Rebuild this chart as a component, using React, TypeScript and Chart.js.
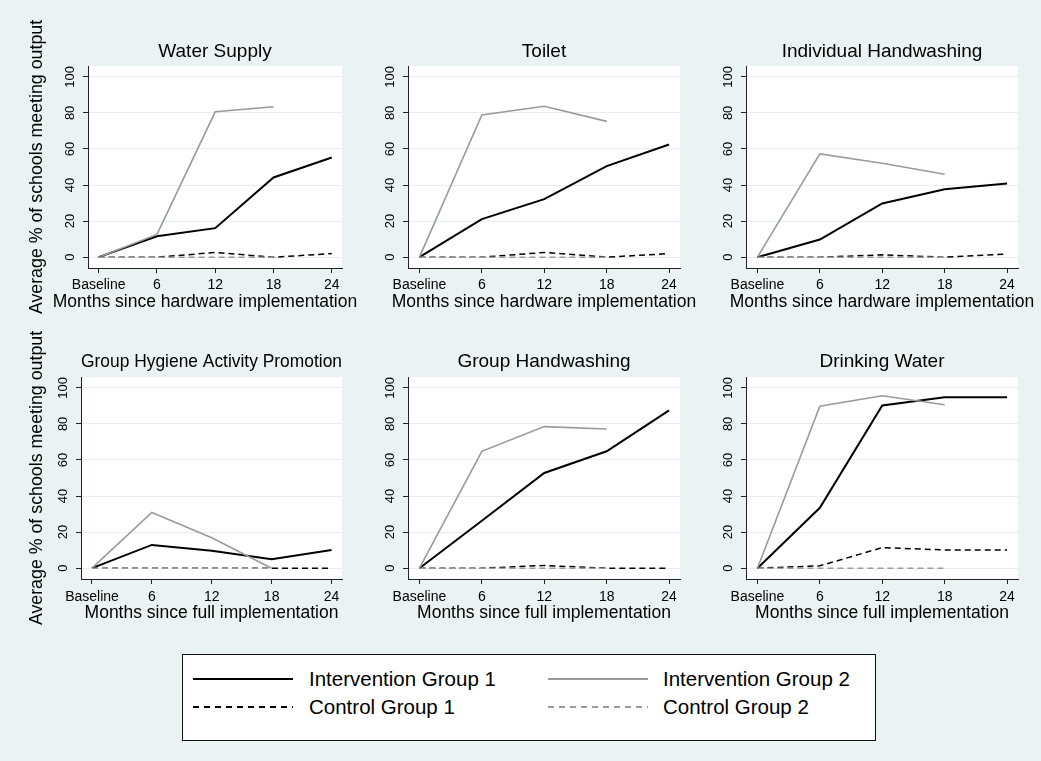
import React, { useEffect, useRef } from 'react';
import { Chart, registerables } from 'chart.js';

Chart.register(...registerables);

// ---------- data ----------
const months = [0, 6, 12, 18, 24];
const monthLabels = ['Baseline', '6', '12', '18', '24'];
const yTickValues = [0, 20, 40, 60, 80, 100];
const seriesNames = ['Intervention Group 1', 'Intervention Group 2', 'Control Group 1', 'Control Group 2'];
const panelTitles = ['Water Supply', 'Toilet', 'Individual Handwashing', 'Group Hygiene Activity Promotion', 'Group Handwashing', 'Drinking Water'];
const xAxisTitles = [
  'Months since hardware implementation',
  'Months since hardware implementation',
  'Months since hardware implementation',
  'Months since full implementation',
  'Months since full implementation',
  'Months since full implementation',
];
const yAxisTitle = 'Average % of schools meeting output';

// Intervention Group 1 (to 24 months), Intervention Group 2 (to 18), Control Group 1 (to 24), Control Group 2 (to 18)
const waterSupplyIG1 = [0, 11.6, 16.1, 44.2, 55.3];
const waterSupplyIG2 = [0, 12.6, 80.6, 83.4];
const waterSupplyCG1 = [0, 0, 2.6, 0, 2.0];
const waterSupplyCG2 = [0, 0, 0, 0];

const toiletIG1 = [0, 21.1, 32.2, 50.5, 62.5];
const toiletIG2 = [0, 78.9, 83.7, 75.3];
const toiletCG1 = [0, 0, 2.6, 0, 2.0];
const toiletCG2 = [0, 0, 0, 0];

const indivHandIG1 = [0, 9.8, 29.8, 37.7, 40.9];
const indivHandIG2 = [0, 57.3, 52.1, 46.0];
const indivHandCG1 = [0, 0, 1.3, 0, 1.8];
const indivHandCG2 = [0, 0, 0, 0];

const hygieneIG1 = [0, 12.9, 9.6, 5.0, 10.1];
const hygieneIG2 = [0, 30.9, 16.9, 0];
const hygieneCG1 = [0, 0, 0, 0, 0];
const hygieneCG2 = [0, 0, 0, 0];

const groupHandIG1 = [0, 26.3, 52.8, 64.8, 87.5];
const groupHandIG2 = [0, 64.8, 78.5, 77.2];
const groupHandCG1 = [0, 0, 1.5, 0, 0];
const groupHandCG2 = [0, 0, 0, 0];

const drinkingIG1 = [0, 33.5, 90.2, 94.8, 94.8];
const drinkingIG2 = [0, 89.8, 95.6, 90.6];
const drinkingCG1 = [0, 1.3, 11.4, 10.1, 10.1];
const drinkingCG2 = [0, 0, 0, 0];

const panelSeries = [
  [waterSupplyIG1, waterSupplyIG2, waterSupplyCG1, waterSupplyCG2],
  [toiletIG1, toiletIG2, toiletCG1, toiletCG2],
  [indivHandIG1, indivHandIG2, indivHandCG1, indivHandCG2],
  [hygieneIG1, hygieneIG2, hygieneCG1, hygieneCG2],
  [groupHandIG1, groupHandIG2, groupHandCG1, groupHandCG2],
  [drinkingIG1, drinkingIG2, drinkingCG1, drinkingCG2],
];

// ---------- styles / layout ----------
const FONT = "'Liberation Sans', Arial, Helvetica, sans-serif";
const BG = '#EAF2F3';
const GRID = '#E6EEF0';
const AXIS = '#222';
const GRAY = '#9a9a9a';
const TITLE_SIZE = 19;
const AXIS_TITLE_SIZE = 17.5;
const Y_TITLE_SIZE = 17.8;
const TICK_SIZE = 14;
const YTICK_SIZE = 13;
const LEGEND_SIZE = 20.5;
const LH = 1.2;
const TL = 5;
const YTICK_OFFSET = 18;

const seriesStyles = [
  { color: '#000', width: 2, dash: [] as number[], order: 4 },
  { color: GRAY, width: 1.6, dash: [] as number[], order: 3 },
  { color: '#000', width: 1.5, dash: [6, 4], order: 2 },
  { color: GRAY, width: 1.5, dash: [6, 4], order: 1 },
];

type Layout = {
  l: number; r: number; t: number; b: number;
  cl: number; ct: number; cw: number; ch: number;
  titleCY: number; tickCY: number; xTitleCY: number; xTitleCX?: number; yTitleCX?: number;
};

const layouts: Layout[] = [
  { l: 88, r: 342, t: 66, b: 268, cl: 0, ct: 4, cw: 370, ch: 326, titleCY: 52, tickCY: 285, xTitleCY: 302, xTitleCX: 205, yTitleCX: 37.5 },
  { l: 408, r: 680, t: 66, b: 268, cl: 345, ct: 4, cw: 360, ch: 326, titleCY: 52, tickCY: 285, xTitleCY: 302 },
  { l: 746, r: 1018, t: 66, b: 268, cl: 690, ct: 4, cw: 351, ch: 326, titleCY: 52, tickCY: 285, xTitleCY: 302 },
  { l: 81, r: 342, t: 377, b: 579, cl: 0, ct: 325, cw: 370, ch: 315, titleCY: 362, tickCY: 597, xTitleCY: 613, yTitleCX: 37.5 },
  { l: 408, r: 680, t: 377, b: 579, cl: 345, ct: 325, cw: 360, ch: 315, titleCY: 362, tickCY: 597, xTitleCY: 613 },
  { l: 746, r: 1018, t: 377, b: 579, cl: 690, ct: 325, cw: 351, ch: 315, titleCY: 362, tickCY: 597, xTitleCY: 613 },
];

const plotBg = {
  id: 'plotBg',
  beforeDraw(chart: any) {
    const { ctx, chartArea: a } = chart;
    ctx.save();
    ctx.fillStyle = '#ffffff';
    ctx.fillRect(a.left, a.top, a.right - a.left, a.bottom - a.top);
    ctx.restore();
  },
};

// x-axis title drawn without Chart.js's maxWidth squeeze (the title is wider than the plot)
const xTitlePlugin = {
  id: 'xTitleFree',
  afterDraw(chart: any, _args: any, opts: any) {
    const { ctx } = chart;
    const sx = chart.scales.x;
    const cx = opts.cx !== undefined ? opts.cx - opts.cl : (sx.left + sx.right) / 2;
    ctx.save();
    ctx.fillStyle = '#000';
    ctx.font = `${AXIS_TITLE_SIZE}px ${FONT}`;
    ctx.textAlign = 'center';
    ctx.textBaseline = 'middle';
    ctx.fillText(opts.text, cx, opts.cy);
    ctx.restore();
  },
};

function measure(text: string, size: number) {
  const c = document.createElement('canvas').getContext('2d')!;
  c.font = `${size}px ${FONT}`;
  return c.measureText(text).width;
}

function Panel({ idx }: { idx: number }) {
  const ref = useRef<HTMLCanvasElement>(null);
  const L = layouts[idx];
  useEffect(() => {
    const titleLH = TITLE_SIZE * LH;
    const axLH = AXIS_TITLE_SIZE * LH;
    const yLH = Y_TITLE_SIZE * LH;
    const tickLH = TICK_SIZE * LH;
    const padTop = L.titleCY - titleLH / 2 - L.ct;
    const titlePadBottom = L.t - L.titleCY - titleLH / 2;
    const xh = L.xTitleCY + axLH / 2 - L.b;
    const padBottom = L.ct + L.ch - (L.b + xh);
    const padRight = L.cl + L.cw - L.r;
    const yw = L.l - L.cl;
    const xTickPad = L.tickCY - L.b - TL - tickLH / 2;
    const widest = measure('100', YTICK_SIZE);
    const yTickPad = YTICK_OFFSET - TL - widest / 2;
    const hasYTitle = L.yTitleCX !== undefined;
    const yTitlePadTop = hasYTitle ? (L.yTitleCX as number) - L.cl - yLH / 2 : 0;

    const series = panelSeries[idx];
    const datasets = series.map((vals, si) => ({
      label: seriesNames[si],
      data: vals.map((v, i) => ({ x: months[i], y: v })),
      borderColor: seriesStyles[si].color,
      borderWidth: seriesStyles[si].width,
      borderDash: seriesStyles[si].dash,
      order: seriesStyles[si].order,
      pointRadius: 0,
      pointHoverRadius: 0,
      fill: false,
      tension: 0,
    }));

    const chart = new Chart(ref.current as HTMLCanvasElement, {
      type: 'line',
      data: { datasets },
      plugins: [plotBg, xTitlePlugin],
      options: {
        animation: false,
        responsive: false,
        maintainAspectRatio: false,
        events: [],
        layout: { padding: { top: padTop, bottom: padBottom, left: 0, right: padRight } },
        plugins: {
          legend: { display: false },
          tooltip: { enabled: false },
          title: {
            display: true,
            text: panelTitles[idx],
            fullSize: false,
            color: '#000',
            font: { family: FONT, size: TITLE_SIZE, weight: 'normal', lineHeight: LH },
            padding: { top: 0, bottom: titlePadBottom },
          },
          xTitleFree: {
            text: xAxisTitles[idx],
            cy: L.xTitleCY - L.ct,
            cx: L.xTitleCX,
            cl: L.cl,
          },
        },
        scales: {
          x: {
            type: 'linear',
            min: -1.1,
            max: 25.05,
            afterBuildTicks: (s: any) => { s.ticks = months.map((v) => ({ value: v })); },
            afterFit: (s: any) => { s.height = xh; },
            ticks: {
              autoSkip: false,
              maxRotation: 0,
              minRotation: 0,
              padding: xTickPad,
              color: '#000',
              font: { family: FONT, size: TICK_SIZE, lineHeight: LH },
              callback: (v: any) => {
                const k = months.indexOf(Number(v));
                return k >= 0 ? monthLabels[k] : '';
              },
            },
            grid: { drawOnChartArea: false, drawTicks: true, tickLength: TL, tickColor: AXIS, tickWidth: 1 },
            border: { display: true, color: AXIS, width: 1 },
            title: { display: false },
          },
          y: {
            type: 'linear',
            min: -6,
            max: 106,
            afterBuildTicks: (s: any) => { s.ticks = yTickValues.map((v) => ({ value: v })); },
            afterFit: (s: any) => { s.width = yw; },
            ticks: {
              minRotation: 90,
              maxRotation: 90,
              crossAlign: 'center',
              padding: yTickPad,
              color: '#000',
              font: { family: FONT, size: YTICK_SIZE, lineHeight: LH },
            },
            grid: { color: GRID, lineWidth: 1, drawTicks: true, tickLength: TL, tickColor: AXIS, tickWidth: 1 },
            border: { display: true, color: AXIS, width: 1 },
            title: {
              display: hasYTitle,
              text: yAxisTitle,
              color: '#000',
              font: { family: FONT, size: Y_TITLE_SIZE, lineHeight: LH },
              padding: { top: yTitlePadTop, bottom: 0 },
            },
          },
        },
      } as any,
    });
    return () => chart.destroy();
  }, [idx]);
  return (
    <canvas
      ref={ref}
      width={L.cw}
      height={L.ch}
      style={{ position: 'absolute', left: L.cl, top: L.ct, width: L.cw, height: L.ch }}
    />
  );
}

function LegendSample({ si, x, y }: { si: number; x: number; y: number }) {
  const s = seriesStyles[si];
  const w = si === 0 ? 2.6 : si === 1 ? 1.8 : 1.4;
  const bg = s.dash.length
    ? `repeating-linear-gradient(to right, ${s.color} 0px, ${s.color} 6px, transparent 6px, transparent 11px)`
    : s.color;
  return (
    <div style={{ position: 'absolute', left: x, top: y - w / 2, width: 100, height: w, background: bg }} />
  );
}

function Legend() {
  const box = { left: 182, top: 654, width: 694, height: 87 };
  const rows = [679, 707];
  const cols = [{ line: 193, text: 309 }, { line: 548, text: 663 }];
  const items = [
    { si: 0, r: 0, c: 0 },
    { si: 1, r: 0, c: 1 },
    { si: 2, r: 1, c: 0 },
    { si: 3, r: 1, c: 1 },
  ];
  return (
    <>
      <div
        style={{
          position: 'absolute', left: box.left, top: box.top, width: box.width, height: box.height,
          boxSizing: 'border-box', border: '1px solid #111', background: '#fff',
        }}
      />
      {items.map((it) => (
        <React.Fragment key={it.si}>
          <LegendSample si={it.si} x={cols[it.c].line} y={rows[it.r]} />
          <div
            style={{
              position: 'absolute', left: cols[it.c].text, top: rows[it.r] - 12, height: 24, lineHeight: '24px',
              fontFamily: FONT, fontSize: LEGEND_SIZE, color: '#000', whiteSpace: 'nowrap',
            }}
          >
            {seriesNames[it.si]}
          </div>
        </React.Fragment>
      ))}
    </>
  );
}

export default function App() {
  return (
    <div style={{ position: 'absolute', left: 0, top: 0, width: 1041, height: 761, background: BG, overflow: 'hidden' }}>
      {layouts.map((_, i) => (
        <Panel key={i} idx={i} />
      ))}
      <Legend />
    </div>
  );
}
